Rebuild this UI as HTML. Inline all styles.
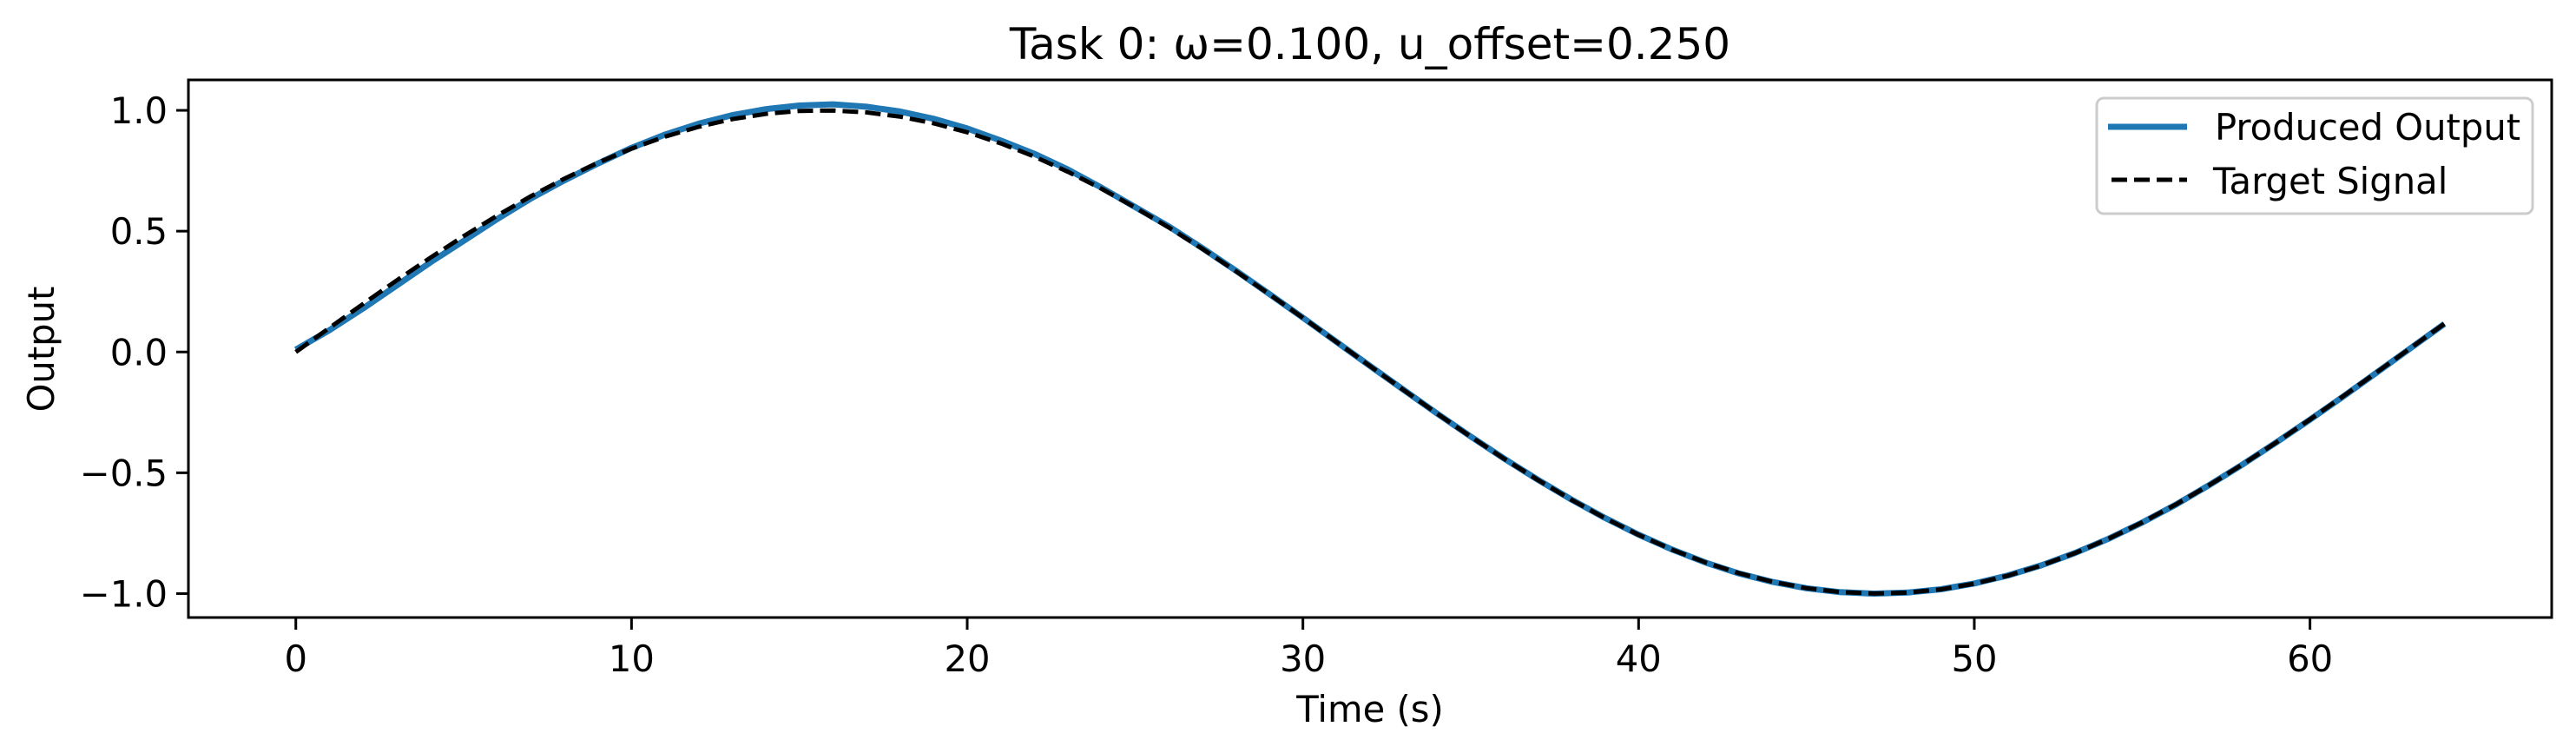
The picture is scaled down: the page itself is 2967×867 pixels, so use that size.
<!DOCTYPE html>
<html><head><meta charset="utf-8"><style>
html,body{margin:0;padding:0;background:#fff;}
svg{display:block;font-family:"DejaVu Sans","Liberation Sans",sans-serif;}
</style></head><body>
<svg id="chart" width="2967" height="867" viewBox="0 0 2967 867">
<rect x="0" y="0" width="2967" height="867" fill="#fff"/>
<text x="1578" y="68" font-size="50" text-anchor="middle">Task 0: ω=0.100, u_offset=0.250</text>
<g id="plot"></g>
<text x="1578" y="831" font-size="41.7" text-anchor="middle">Time (s)</text>
<text x="0" y="0" font-size="41.7" text-anchor="middle" transform="translate(62,402) rotate(-90)">Output</text>
<g>
<rect x="2415" y="113" width="502" height="133" rx="8" fill="#fff" fill-opacity="0.8" stroke="#cccccc" stroke-width="3"/>
<line x1="2428" y1="146" x2="2519" y2="146" stroke="#1f77b4" stroke-width="7"/>
<text x="2551" y="161" font-size="41.7">Produced Output</text>
<line x1="2432" y1="207" x2="2519" y2="207" stroke="#000" stroke-width="5" stroke-dasharray="18,8"/>
<text x="2549" y="223" font-size="41.7">Target Signal</text>
</g>
</svg>
<script>
const times = [0,1,2,3,4,5,6,7,8,9,10,11,12,13,14,15,16,17,18,19,20,21,22,23,24,25,26,27,28,29,30,31,32,33,34,35,36,37,38,39,40,41,42,43,44,45,46,47,48,49,50,51,52,53,54,55,56,57,58,59,60,61,62,63,64];
const targetValues = [0,0.0998,0.1987,0.2955,0.3894,0.4794,0.5646,0.6442,0.7174,0.7833,0.8415,0.8912,0.9320,0.9636,0.9854,0.9975,0.9996,0.9917,0.9738,0.9463,0.9093,0.8632,0.8085,0.7457,0.6755,0.5985,0.5155,0.4274,0.3350,0.2392,0.1411,0.0416,-0.0584,-0.1577,-0.2555,-0.3508,-0.4425,-0.5298,-0.6119,-0.6878,-0.7568,-0.8183,-0.8716,-0.9162,-0.9516,-0.9775,-0.9937,-0.9999,-0.9962,-0.9825,-0.9589,-0.9258,-0.8835,-0.8323,-0.7728,-0.7055,-0.6313,-0.5507,-0.4646,-0.3739,-0.2794,-0.1822,-0.0831,0.0168,0.1165];
const producedValues = [0.01,0.09,0.18,0.275,0.37,0.46,0.55,0.635,0.71,0.78,0.845,0.9,0.945,0.98,1.005,1.02,1.025,1.015,0.995,0.965,0.925,0.875,0.82,0.755,0.68,0.6,0.52,0.43,0.337,0.24,0.142,0.042,-0.058,-0.157,-0.255,-0.35,-0.442,-0.529,-0.611,-0.687,-0.756,-0.818,-0.872,-0.917,-0.952,-0.978,-0.994,-1.0,-0.996,-0.982,-0.958,-0.925,-0.883,-0.832,-0.773,-0.706,-0.632,-0.551,-0.465,-0.374,-0.28,-0.183,-0.084,0.016,0.116];
const xTicks = [0,10,20,30,40,50,60];
const yTicks = [-1.0,-0.5,0.0,0.5,1.0];
const yTickLabels = ["\u22121.0","\u22120.5","0.0","0.5","1.0"];

const L=217, R=2939, T=92, B=711;
const xMin=-3.2, xMax=67.2, yMin=-1.099, yMax=1.126;
const sx = v => L + (v - xMin) / (xMax - xMin) * (R - L);
const sy = v => B - (v - yMin) / (yMax - yMin) * (B - T);
const NS="http://www.w3.org/2000/svg";
const g=document.getElementById('plot');
function mk(tag, attrs){const e=document.createElementNS(NS,tag);for(const k in attrs)e.setAttribute(k,attrs[k]);g.appendChild(e);return e;}

xTicks.forEach(v=>{
  const t=mk('line',{x1:sx(v),x2:sx(v),y1:B,y2:B+14,stroke:'#000','stroke-width':3});
  
  
  const l=mk('text',{x:sx(v),y:773,'font-size':41.7,'text-anchor':'middle'});
  l.textContent=String(v);
  
  
});
yTicks.forEach((v,i)=>{
  const t=mk('line',{x1:L-14,x2:L,y1:sy(v),y2:sy(v),stroke:'#000','stroke-width':3});
  
  
  const l=mk('text',{x:L-24,y:sy(v)+15,'font-size':41.7,'text-anchor':'end'});
  l.textContent=yTickLabels[i];
  
  
});
function pts(vals){return times.map((t,i)=>sx(t).toFixed(1)+','+sy(vals[i]).toFixed(1)).join(' ');}
const p1=mk('polyline',{points:pts(producedValues),fill:'none',stroke:'#1f77b4','stroke-width':7,'stroke-linejoin':'round'});


const p2=mk('polyline',{points:pts(targetValues),fill:'none',stroke:'#000','stroke-width':5,'stroke-dasharray':'18,8'});


const fr=mk('rect',{x:L,y:T,width:R-L,height:B-T,fill:'none',stroke:'#000','stroke-width':3});


</script>
</body></html>
